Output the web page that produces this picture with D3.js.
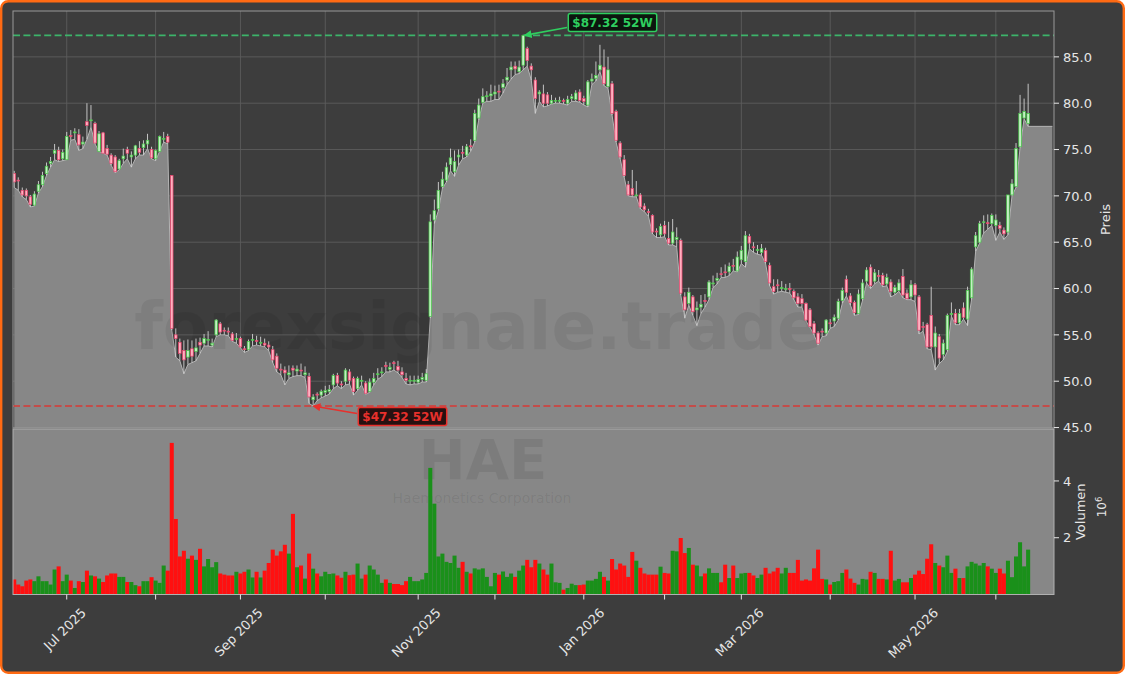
<!DOCTYPE html>
<html><head><meta charset="utf-8">
<script src="https://cdn.jsdelivr.net/npm/d3@7"></script>
<style>html,body{margin:0;padding:0;background:#ffffff;} svg{display:block;font-family:"DejaVu Sans",sans-serif;}</style>
</head><body><svg id="c" width="1125" height="674"></svg>
<script>
// ---------------- DATA ----------------
const ticker = "HAE";
const companyName = "Haemonetics Corporation";
const watermark = "forexsignale.trade";
const startDate = "2025-06-11";
const holidays = ["2025-06-19","2025-07-04","2025-09-01","2025-11-27","2025-12-25","2026-01-01","2026-01-19","2026-02-16","2026-04-03","2026-05-25"];
const numBars = 252;
const areaPadBars = 6;
const high52 = 87.32;
const low52 = 47.32;
const priceTicks = [45,50,55,60,65,70,75,80,85];
const volumeTicks = [2,4];

const opens = [72.4,71.7,70.6,70.6,69.9,69.0,70.5,71.2,72.4,73.5,
74.6,74.9,74.0,73.9,76.5,76.8,76.6,75.6,78.0,78.1,
77.8,74.8,76.8,75.1,74.4,74.2,72.9,74.0,75.0,74.2,
74.4,75.1,75.2,75.6,75.0,74.0,74.8,76.2,76.4,72.2,
55.0,54.2,53.3,52.6,53.5,53.2,54.2,54.1,54.5,53.9,
55.0,56.2,55.5,55.4,55.1,54.6,54.6,53.5,53.4,54.5,
54.4,54.1,54.1,53.9,53.4,52.7,51.3,51.2,50.7,51.4,
51.1,51.2,50.7,50.5,48.0,48.6,48.5,48.8,48.9,49.6,
50.6,49.7,50.0,51.0,50.3,49.2,50.0,49.8,48.9,49.9,
50.7,50.9,51.7,51.3,52.0,51.6,51.0,50.3,50.1,50.0,
49.9,50.2,50.1,57.0,67.4,68.6,71.0,71.7,73.4,72.6,
74.2,74.7,74.4,75.4,76.0,78.4,80.1,80.7,80.8,81.0,
81.3,81.7,82.5,83.6,84.0,83.4,84.1,85.9,84.0,82.5,
81.0,81.0,80.9,80.0,80.3,80.3,80.3,80.0,80.5,80.4,
81.2,80.5,79.8,82.4,82.7,83.6,83.9,81.8,82.1,79.1,
75.7,73.9,71.2,70.8,70.0,70.1,68.9,68.3,67.9,66.2,
65.8,66.8,65.4,64.9,65.3,65.2,59.1,58.4,59.1,57.7,
58.0,58.7,59.1,60.5,60.9,61.6,61.8,61.8,62.5,61.9,
63.1,62.9,65.6,64.5,64.2,63.9,64.1,62.5,60.2,60.4,
60.0,59.9,60.0,59.7,59.1,58.9,58.4,57.7,56.2,55.2,
55.4,55.2,56.3,56.5,56.8,58.7,61.0,59.2,58.5,57.3,
58.9,60.8,62.3,60.8,61.4,61.4,60.5,60.7,59.6,59.8,
61.3,59.5,59.1,60.4,59.1,55.9,56.1,57.1,53.7,54.8,
52.9,53.4,57.2,57.3,56.3,57.9,56.7,59.0,64.5,65.0,
67.2,67.1,67.0,66.8,66.8,66.3,66.1,70.1,71.0,75.3,
78.4,77.8];

const highs = [72.7,72.0,70.9,70.8,70.1,70.5,71.6,72.6,73.6,74.2,
75.6,75.3,75.0,76.9,77.1,77.3,77.2,76.4,80.0,79.8,
78.0,77.0,76.9,75.5,74.6,74.4,74.0,75.1,75.3,74.8,
75.5,75.9,76.0,76.7,75.3,75.0,76.5,76.9,76.7,72.2,
55.7,54.6,54.4,54.5,54.4,54.6,54.7,55.1,55.4,54.6,
56.7,56.4,55.8,55.8,55.3,55.2,54.8,53.8,54.5,55.1,
54.9,54.8,54.6,54.3,53.8,53.0,51.9,51.6,51.7,51.7,
51.7,51.9,51.6,50.9,48.6,48.8,49.1,49.5,49.6,50.8,
50.9,50.0,51.4,51.3,50.5,50.5,50.6,50.0,50.3,50.9,
51.4,51.5,52.1,52.0,52.2,52.2,51.5,50.9,50.6,50.6,
50.6,50.9,51.3,68.0,69.6,71.5,72.6,73.6,75.1,74.9,
75.0,75.4,75.6,76.1,79.3,80.5,81.6,81.3,82.0,81.9,
82.0,82.6,83.8,84.5,84.5,84.6,87.32,86.1,84.3,82.8,
81.4,82.0,81.2,80.9,80.6,80.7,80.5,80.8,81.0,81.4,
81.5,80.8,82.5,83.2,84.5,86.3,85.8,85.0,82.4,79.3,
75.9,74.4,71.6,72.8,71.6,70.3,69.2,68.6,68.0,66.5,
67.0,67.3,67.2,67.5,66.6,65.4,59.6,60.1,59.3,58.6,
59.3,59.4,60.9,61.4,61.7,62.3,62.6,62.8,63.2,64.0,
64.6,66.2,65.9,65.0,64.7,64.8,64.4,62.8,61.0,61.0,
60.8,60.5,60.6,59.9,59.5,59.4,58.5,57.9,56.5,55.4,
55.7,56.7,56.7,57.2,58.9,60.1,61.4,59.5,58.7,59.9,
61.0,62.3,62.6,62.1,62.0,61.7,61.6,61.0,60.4,61.0,
62.1,59.9,60.9,60.6,59.3,56.4,56.3,60.2,55.9,55.1,
54.5,57.3,58.5,57.8,57.8,58.5,60.2,62.3,66.1,67.3,
67.9,68.0,68.1,68.0,67.2,66.6,70.1,71.8,75.7,80.9,
80.5,82.1];

const lows = [70.9,70.6,69.9,69.6,68.8,68.9,70.3,71.0,72.2,73.1,
73.9,73.7,73.8,73.9,76.0,76.1,74.9,75.1,76.1,77.4,
75.6,74.8,74.6,74.4,73.3,72.5,72.8,73.5,74.0,73.1,
74.0,74.4,74.4,75.1,74.0,73.8,74.8,75.8,75.6,55.5,
52.6,52.2,50.8,51.8,52.0,52.2,53.0,53.8,53.8,53.7,
54.8,55.0,55.0,54.9,54.3,54.1,53.6,53.1,53.3,53.8,
53.9,53.8,53.7,53.3,52.0,51.0,50.7,49.6,50.3,50.5,
50.6,50.6,50.4,47.6,47.32,47.9,48.2,48.4,48.6,49.2,
49.5,49.2,49.6,49.7,48.5,49.0,49.6,48.6,48.8,49.6,
50.2,50.5,51.0,51.0,51.2,50.9,50.4,49.7,49.6,49.7,
49.7,49.9,49.9,56.8,67.0,68.4,70.8,71.5,72.7,72.1,
73.3,74.0,74.2,74.8,75.8,78.2,80.0,80.2,80.2,80.4,
80.4,81.1,82.0,82.6,83.1,83.2,83.6,84.0,82.5,78.9,
80.2,79.6,79.7,79.9,80.0,80.0,79.9,79.8,80.2,80.2,
80.1,79.8,79.6,82.0,82.4,83.4,81.9,81.6,78.7,75.8,
74.0,72.0,70.0,69.9,69.9,68.6,68.3,67.8,65.9,65.5,
65.5,65.6,64.7,64.7,64.5,59.3,56.8,58.2,57.1,56.0,
57.3,58.0,58.8,60.1,60.5,61.2,61.2,61.4,61.9,61.8,
62.7,62.3,64.3,63.9,63.7,63.6,62.7,60.3,59.4,59.6,
59.7,59.6,59.5,58.8,58.0,58.0,56.5,55.8,55.0,53.9,
54.8,54.9,55.7,55.9,56.6,58.4,59.2,58.2,57.1,57.2,
58.7,60.6,60.0,60.5,60.8,60.2,60.3,59.1,59.3,59.7,
59.0,58.8,58.8,58.6,55.1,55.4,53.5,53.4,51.2,51.9,
52.3,53.2,57.0,56.1,56.1,56.7,56.0,58.8,64.0,64.9,
66.0,66.4,66.8,65.2,66.1,65.3,65.8,70.0,70.9,75.2,
78.3,77.5];

const closes = [71.5,71.6,70.1,70.0,69.1,70.2,71.2,72.2,73.2,73.7,
74.9,73.9,74.7,76.4,76.4,76.9,75.5,75.8,77.6,78.2,
75.7,76.7,74.6,74.5,73.5,72.6,73.8,74.3,74.6,74.4,
75.4,74.7,75.6,76.0,74.1,74.9,76.4,76.2,75.8,55.7,
54.6,53.0,52.3,53.3,52.7,53.6,53.9,54.6,54.5,54.1,
56.6,55.3,55.4,55.3,54.4,54.6,53.7,53.4,54.3,54.5,
54.3,54.2,53.9,53.7,52.3,51.4,51.2,50.9,50.9,51.2,
51.3,51.1,50.9,48.3,48.3,48.5,48.9,49.0,49.1,50.6,
49.8,49.6,51.2,50.1,48.9,50.3,50.1,48.7,49.9,50.3,
50.8,51.0,51.6,51.5,51.9,51.2,50.7,50.1,50.1,50.1,
50.2,50.4,50.8,67.2,68.4,70.6,71.8,73.1,74.1,73.7,
74.4,74.6,75.3,75.3,78.9,79.8,80.7,80.8,81.0,81.2,
81.2,82.1,82.8,83.9,83.7,83.9,87.3,84.6,83.6,80.5,
81.2,80.0,80.0,80.3,80.3,80.3,80.2,80.4,80.7,81.1,
80.3,80.2,82.3,82.6,83.0,84.1,82.1,83.6,78.9,76.0,
74.2,72.2,70.1,70.1,70.1,68.8,68.5,68.2,66.1,66.1,
66.7,65.9,64.9,66.1,65.5,59.5,57.7,59.6,57.5,57.9,
58.3,58.6,60.7,60.6,61.1,61.5,61.7,62.4,62.4,63.4,
64.1,65.7,64.9,64.4,64.2,64.3,62.9,60.6,59.7,60.3,
60.1,60.0,59.9,59.0,58.4,58.4,56.6,55.9,55.2,54.1,
55.3,56.6,56.2,56.9,58.6,59.8,59.6,58.5,57.4,59.4,
60.6,62.0,60.3,61.7,61.3,60.4,61.2,59.7,60.1,60.6,
59.3,58.9,60.4,59.3,55.5,55.8,53.7,53.7,55.2,52.5,
54.1,57.1,57.3,56.3,57.3,56.9,59.8,62.1,65.7,67.0,
67.2,67.0,67.9,67.4,66.5,65.9,70.1,71.3,75.1,78.9,
79.1,78.9];

const volumes = [0.53,0.35,0.29,0.49,0.53,0.47,0.64,0.47,0.47,0.35,
0.88,0.99,0.47,0.70,0.49,0.23,0.47,0.44,0.84,0.67,
0.64,0.56,0.44,0.67,0.74,0.74,0.62,0.62,0.44,0.44,
0.33,0.29,0.47,0.47,0.61,0.49,0.41,1.02,0.84,5.34,
2.66,1.34,1.54,1.26,1.37,1.22,1.61,0.99,1.25,0.96,
1.14,0.74,0.70,0.67,0.67,0.80,0.74,0.80,0.88,0.60,
0.80,0.60,0.84,1.11,1.58,1.37,1.52,1.75,1.44,2.84,
0.96,1.02,0.56,1.44,0.91,0.74,0.64,0.80,0.72,0.74,
0.67,0.59,0.80,0.68,0.70,1.09,0.56,0.70,1.02,0.88,
0.70,0.41,0.53,0.41,0.37,0.37,0.33,0.47,0.62,0.47,
0.47,0.53,0.76,4.46,3.20,1.34,1.44,1.15,1.11,1.37,
0.94,1.15,0.80,0.74,0.92,0.88,0.92,0.62,0.29,0.76,
0.70,0.81,0.62,0.74,0.62,0.84,1.02,1.22,0.96,1.22,
1.09,0.88,0.70,1.09,0.43,0.41,0.17,0.23,0.38,0.33,
0.33,0.35,0.49,0.49,0.55,0.80,0.62,0.49,1.25,0.88,
1.09,1.02,0.62,1.50,1.19,0.94,0.74,0.70,0.70,0.70,
0.98,0.76,0.74,1.54,1.52,1.99,1.46,1.64,1.05,1.02,
0.64,0.74,0.92,0.76,0.76,0.43,1.05,0.58,1.02,0.58,
0.74,0.76,0.76,0.67,0.58,0.70,0.94,0.74,0.81,0.94,
0.74,0.94,0.76,0.76,1.22,0.49,0.53,0.49,0.92,1.58,
0.55,0.53,0.35,0.44,0.47,0.76,0.88,0.56,0.41,0.35,
0.55,0.53,0.80,0.76,0.55,0.55,0.53,1.54,0.49,0.55,
0.43,0.43,0.58,0.70,0.84,0.72,1.26,1.77,1.11,1.02,
0.96,1.37,0.76,0.91,0.58,0.58,0.99,1.15,1.09,1.02,
1.11,0.99,0.91,0.76,0.91,0.74,1.19,0.61,1.34,1.84,
0.99,1.58];

// ---------------- DATES (trading days) ----------------
const hol = new Set(holidays);
const dates = [];
{
  let d = new Date(startDate + "T00:00:00Z");
  while (dates.length < numBars) {
    const wd = d.getUTCDay();
    const iso = d.toISOString().slice(0,10);
    if (wd !== 0 && wd !== 6 && !hol.has(iso)) dates.push(new Date(d));
    d.setUTCDate(d.getUTCDate() + 1);
  }
}
const bars = dates.map((d,i)=>({i, date:d, o:opens[i], h:highs[i], l:lows[i], c:closes[i], v:volumes[i]}));

// ---------------- LAYOUT ----------------
const W = 1125, H = 674;
const P = {x0:13, x1:1054, y0:11, y1:428};
const V = {x0:13, x1:1054, y0:429, y1:594.5};
const BG = "#3d3d3d";

const x = d3.scaleLinear().domain([-0.3, 257.4]).range([P.x0, P.x1]);
const yP = d3.scaleLinear().domain([44.95, 89.95]).range([P.y1, P.y0]);
const yV = d3.scaleLinear().domain([0, 5.83]).range([V.y1, V.y0]);

const svg = d3.select("#c");
svg.append("rect").attr("x",1.2).attr("y",1.2).attr("width",W-2.4).attr("height",H-2.4)
  .attr("rx",7).attr("fill",BG).attr("stroke","#ff6a13").attr("stroke-width",2.4);

const defs = svg.append("defs");
defs.append("clipPath").attr("id","clipP").append("rect")
  .attr("x",P.x0).attr("y",P.y0).attr("width",P.x1-P.x0).attr("height",P.y1-P.y0);
defs.append("clipPath").attr("id","clipV").append("rect")
  .attr("x",V.x0).attr("y",V.y0).attr("width",V.x1-V.x0).attr("height",V.y1-V.y0);
["g","r"].forEach(k=>{
  defs.append("marker").attr("id","arr"+k).attr("viewBox","0 0 10 10").attr("refX",9).attr("refY",5)
    .attr("markerWidth",8).attr("markerHeight",8).attr("markerUnits","userSpaceOnUse").attr("orient","auto")
    .append("path").attr("d","M0,0 L10,5 L0,10 z").attr("fill", k==="g" ? "#2fcf5f" : "#e8302c");
});

// month ticks (first trading day of each month)
const monthTicks = bars.filter((b,i)=> i>0 && b.date.getUTCMonth() !== bars[i-1].date.getUTCMonth());
const fmt = d3.utcFormat("%b %Y");

// ---------- price panel ----------
const gp = svg.append("g");
gp.append("rect").attr("x",P.x0).attr("y",P.y0).attr("width",P.x1-P.x0).attr("height",P.y1-P.y0).attr("fill",BG);
const grid = gp.append("g").attr("stroke","#5c5c5c").attr("stroke-width",0.9);
grid.selectAll("line.h").data(priceTicks).join("line").attr("class","h")
  .attr("x1",P.x0).attr("x2",P.x1).attr("y1",d=>yP(d)).attr("y2",d=>yP(d));
grid.selectAll("line.v").data(monthTicks).join("line").attr("class","v")
  .attr("x1",d=>x(d.i)).attr("x2",d=>x(d.i)).attr("y1",P.y0).attr("y2",P.y1);

// area of lows with forward-filled padding
const areaData = bars.map(b=>({i:b.i, y:b.l}));
const last = bars[bars.length-1];
areaData.push({i:last.i + areaPadBars, y:last.l});
const gClipP = gp.append("g").attr("clip-path","url(#clipP)");
gClipP.append("path").datum(areaData)
  .attr("d", d3.area().x(d=>x(d.i)).y0(yP(44.95)).y1(d=>yP(d.y)))
  .attr("fill","#878787");
gClipP.append("path").datum(areaData)
  .attr("d", d3.line().x(d=>x(d.i)).y(d=>yP(d.y)))
  .attr("fill","none").attr("stroke","#b4b4b4").attr("stroke-width",1);

// watermark
gClipP.append("text").attr("x",478).attr("y",349).attr("text-anchor","middle")
  .attr("font-size",66).attr("font-weight","bold").attr("fill","rgba(0,0,0,0.065)").text(watermark);

// 52W lines
gClipP.append("line").attr("x1",P.x0).attr("x2",P.x1).attr("y1",yP(high52)).attr("y2",yP(high52))
  .attr("stroke","#3cb46a").attr("stroke-width",1.6).attr("stroke-dasharray","7,3.4");
gClipP.append("line").attr("x1",P.x0).attr("x2",P.x1).attr("y1",yP(low52)).attr("y2",yP(low52))
  .attr("stroke","#d83a36").attr("stroke-width",1.6).attr("stroke-dasharray","7,3.4");

// candles
const bw = 2.6;
const cg = gClipP.append("g");
cg.selectAll("line.w").data(bars).join("line").attr("class","w")
  .attr("x1",d=>x(d.i)).attr("x2",d=>x(d.i)).attr("y1",d=>yP(d.h)).attr("y2",d=>yP(d.l))
  .attr("stroke","#d4d4d4").attr("stroke-width",0.9);
cg.selectAll("rect.b").data(bars).join("rect").attr("class","b")
  .attr("x",d=>x(d.i)-bw/2).attr("width",bw)
  .attr("y",d=>yP(Math.max(d.o,d.c)))
  .attr("height",d=>Math.max(0.8, Math.abs(yP(d.o)-yP(d.c))))
  .attr("fill",d=>d.c>=d.o ? "#c4efc4" : "#ffb0c0")
  .attr("stroke",d=>d.c>=d.o ? "#45c645" : "#e8406a").attr("stroke-width",0.7);

// frame
gp.append("rect").attr("x",P.x0).attr("y",P.y0).attr("width",P.x1-P.x0).attr("height",P.y1-P.y0)
  .attr("fill","none").attr("stroke","#9a9a9a").attr("stroke-width",1);

// annotations
function label(txt, cx, cy, col, bg, tipI, tipV, fromX, fromY, mk){
  const g = svg.append("g");
  g.append("line").attr("x1",fromX).attr("y1",fromY).attr("x2",x(tipI)).attr("y2",yP(tipV))
    .attr("stroke",col).attr("stroke-width",1.6).attr("marker-end","url(#"+mk+")");
  const t = g.append("text").attr("x",cx).attr("y",cy).attr("dy","0.36em").attr("text-anchor","middle")
    .attr("font-size",12).attr("font-weight","bold").attr("fill",col).text(txt);
  const L = t.node().getComputedTextLength();
  g.insert("rect","text").attr("x",cx-L/2-4).attr("y",cy-9).attr("width",L+8).attr("height",18)
    .attr("rx",2).attr("fill",bg).attr("stroke",col).attr("stroke-width",1.5);
}
const hiIdx = highs.indexOf(d3.max(highs));
const loIdx = lows.indexOf(d3.min(lows));
label("$"+high52.toFixed(2)+" 52W", 612.5, 22.5, "#2fcf5f", "rgba(8,18,10,0.92)", hiIdx+0.3, high52, 567, 27.5, "arrg");
label("$"+low52.toFixed(2)+" 52W", 402.5, 416.5, "#e8302c", "rgba(30,6,6,0.92)", loIdx, low52, 357, 413.5, "arrr");

// price axis
const pa = svg.append("g").attr("fill","#e6e6e6").attr("font-size",13);
pa.selectAll("line").data(priceTicks).join("line")
  .attr("x1",P.x1).attr("x2",P.x1+5).attr("y1",d=>yP(d)).attr("y2",d=>yP(d)).attr("stroke","#e6e6e6");
pa.selectAll("text").data(priceTicks).join("text")
  .attr("x",P.x1+9).attr("y",d=>yP(d)).attr("dy","0.36em").text(d=>d.toFixed(1));
svg.append("text").attr("transform",`translate(1110,${(P.y0+P.y1)/2}) rotate(-90)`)
  .attr("text-anchor","middle").attr("font-size",13).attr("fill","#e6e6e6").text("Preis");

// ---------- volume panel ----------
const gv = svg.append("g");
gv.append("rect").attr("x",V.x0).attr("y",V.y0).attr("width",V.x1-V.x0).attr("height",V.y1-V.y0).attr("fill","#878787");
const gvc = gv.append("g").attr("clip-path","url(#clipV)");
gvc.append("text").attr("x",483).attr("y",479).attr("text-anchor","middle")
  .attr("font-size",56).attr("font-weight","bold").attr("fill","rgba(0,0,0,0.08)").text(ticker);
gvc.append("text").attr("x",482).attr("y",503).attr("text-anchor","middle")
  .attr("font-size",14).attr("fill","rgba(0,0,0,0.08)").text(companyName);
const vw = 4.04;
gvc.selectAll("rect.v").data(bars).join("rect").attr("class","v")
  .attr("x",d=>x(d.i)-vw/2).attr("width",vw)
  .attr("y",d=>yV(d.v)).attr("height",d=>yV(0)-yV(d.v))
  .attr("fill",d=>d.c>=d.o ? "#1a901a" : "#ff1010");
gv.append("rect").attr("x",V.x0).attr("y",V.y0).attr("width",V.x1-V.x0).attr("height",V.y1-V.y0)
  .attr("fill","none").attr("stroke","#b0b0b0").attr("stroke-width",1);

const va = svg.append("g").attr("fill","#e6e6e6").attr("font-size",13);
va.selectAll("line").data(volumeTicks).join("line")
  .attr("x1",V.x1).attr("x2",V.x1+5).attr("y1",d=>yV(d)).attr("y2",d=>yV(d)).attr("stroke","#e6e6e6");
va.selectAll("text").data(volumeTicks).join("text")
  .attr("x",V.x1+9).attr("y",d=>yV(d)).attr("dy","0.36em").text(d=>d);
svg.append("text").attr("transform",`translate(1085,${(V.y0+V.y1)/2}) rotate(-90)`)
  .attr("text-anchor","middle").attr("font-size",13).attr("fill","#e6e6e6").text("Volumen");
const ot = svg.append("text").attr("transform",`translate(1106,507) rotate(-90)`)
  .attr("text-anchor","middle").attr("font-size",12).attr("fill","#e6e6e6");
ot.append("tspan").text("10");
ot.append("tspan").attr("dy","-0.45em").attr("font-size",8.5).text("6");

// x axis
const xa = svg.append("g");
xa.selectAll("line").data(monthTicks).join("line")
  .attr("x1",d=>x(d.i)).attr("x2",d=>x(d.i)).attr("y1",V.y1).attr("y2",V.y1+5)
  .attr("stroke","#e6e6e6");
xa.selectAll("text").data(monthTicks.filter(d=>d.date.getUTCMonth()%2===0)).join("text")
  .attr("text-anchor","middle").attr("dy","0.36em").attr("font-size",13).attr("fill","#e6e6e6")
  .text(d=>fmt(d.date))
  .each(function(d){
    const L = this.getComputedTextLength();
    const cy = 605 + 0.7071*(L+15)/2;
    d3.select(this).attr("transform",`translate(${x(d.i)-2},${cy}) rotate(-45)`);
  });
</script></body></html>
